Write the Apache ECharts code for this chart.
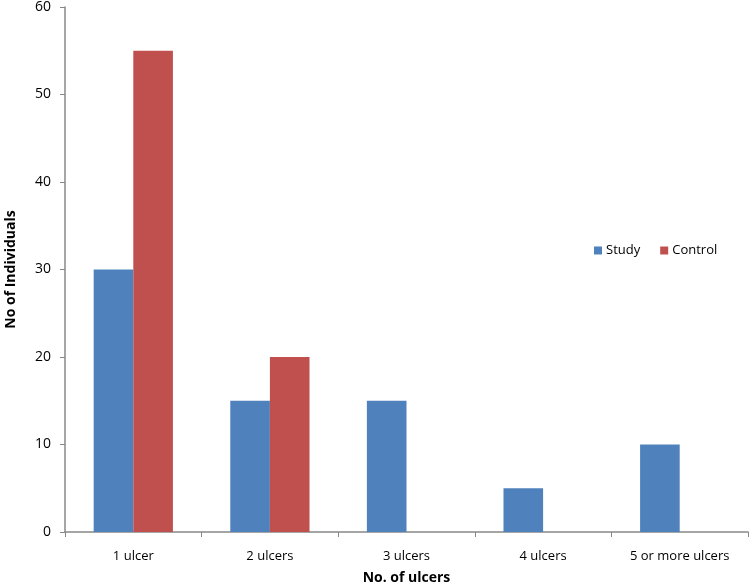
<!DOCTYPE html>
<html>
<head>
<meta charset="utf-8">
<script src="https://cdn.jsdelivr.net/npm/echarts@6/dist/echarts.min.js"></script>
<style>html,body{margin:0;padding:0;background:#fff}#c{width:750px;height:588px}</style>
</head>
<body>
<div id="c"></div>
<script>
var categories = ['1 ulcer', '2 ulcers', '3 ulcers', '4 ulcers', '5 or more ulcers'];
var studyValues = [30, 15, 15, 5, 10];
var controlValues = [55, 20, 0, 0, 0];
var yTicks = [0, 10, 20, 30, 40, 50, 60];

var chart = echarts.init(document.getElementById('c'));
var font = '"Open Sans", "Noto Sans", sans-serif';
chart.setOption({
  animation: false,
  textStyle: {fontFamily: font},
  grid: {left: 65, right: 2, top: 7, bottom: 56, containLabel: false, outerBoundsMode: 'none'},
  legend: {
    left: 589, top: 239, orient: 'horizontal',
    itemWidth: 8, itemHeight: 8, itemGap: 20,
    icon: 'rect',
    textStyle: {fontFamily: font, fontSize: 13, color: '#000', padding: [0, 0, 0, -1]},
    data: ['Study', 'Control']
  },
  xAxis: {
    type: 'category',
    data: categories,
    name: 'No. of ulcers',
    nameLocation: 'middle',
    nameGap: 39,
    nameTextStyle: {fontFamily: font, fontSize: 14, fontWeight: 'bold', color: '#000'},
    axisLine: {lineStyle: {color: '#888', width: 1.5}},
    axisTick: {show: true, alignWithLabel: false, length: 5, lineStyle: {color: '#888'}},
    axisLabel: {color: '#000', fontSize: 13, margin: 18, fontFamily: font}
  },
  yAxis: {
    type: 'value',
    min: yTicks[0], max: yTicks[yTicks.length - 1], interval: 10,
    name: 'No of Individuals',
    nameLocation: 'middle',
    nameGap: 47,
    nameTextStyle: {fontFamily: font, fontSize: 14, fontWeight: 'bold', color: '#000'},
    axisLine: {show: true, lineStyle: {color: '#888', width: 1.5}},
    axisTick: {show: true, length: 5, lineStyle: {color: '#888'}},
    splitLine: {show: false},
    axisLabel: {color: '#000', fontSize: 14, margin: 14, fontFamily: font}
  },
  series: [
    {name: 'Study', type: 'bar', data: studyValues, barGap: '0%', barCategoryGap: '42%',
     itemStyle: {color: '#4F81BD'}},
    {name: 'Control', type: 'bar', data: controlValues,
     itemStyle: {color: '#C0504D'}}
  ]
});
</script>
</body>
</html>
